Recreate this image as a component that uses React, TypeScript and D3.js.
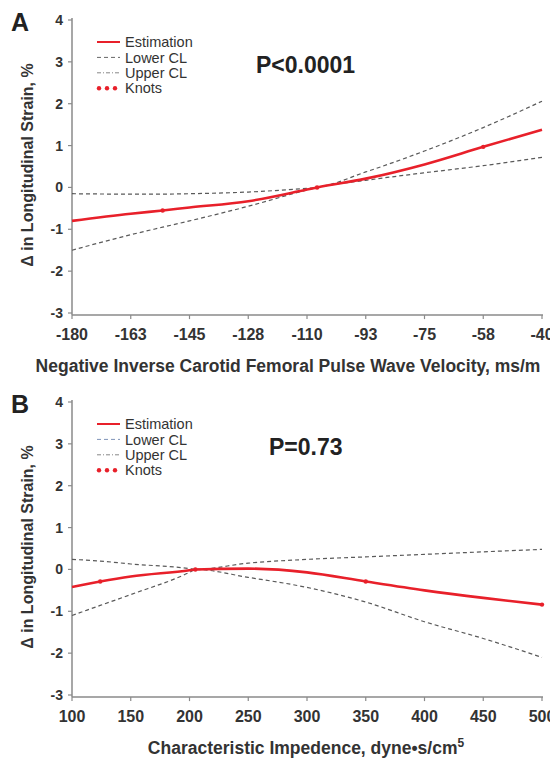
import React from "react";
import * as d3 from "d3";

// ---------- Panel A data ----------
const xA = [-180, -162.5, -153, -145, -127.5, -110, -107, -92.5, -75, -57.5, -40];
const estA = [-0.8, -0.63, -0.55, -0.48, -0.33, -0.05, 0, 0.21, 0.55, 0.97, 1.38];
const lowerA = [-1.5, -1.13, -0.95, -0.8, -0.45, -0.06, 0, 0.17, 0.35, 0.52, 0.72];
const upperA = [-0.15, -0.16, -0.16, -0.15, -0.11, -0.02, 0, 0.37, 0.87, 1.43, 2.06];
const knotsXA = [-153, -107, -57.5];
const knotsYA = [-0.55, 0, 0.97];
const xTicksA = [-180, -162.5, -145, -127.5, -110, -92.5, -75, -57.5, -40];
const xTickLabelsA = ["-180", "-163", "-145", "-128", "-110", "-93", "-75", "-58", "-40"];

// ---------- Panel B data ----------
const xB = [100, 124, 150, 200, 205, 250, 300, 350, 400, 450, 500];
const estB = [-0.42, -0.29, -0.17, -0.02, 0, 0.02, -0.07, -0.29, -0.5, -0.68, -0.84];
const lowerB = [-1.1, -0.86, -0.6, -0.07, 0, -0.19, -0.43, -0.78, -1.25, -1.65, -2.1];
const upperB = [0.24, 0.2, 0.13, 0.02, 0, 0.15, 0.24, 0.3, 0.36, 0.42, 0.48];
const knotsXB = [124, 205, 350, 500];
const knotsYB = [-0.29, 0, -0.29, -0.84];
const xTicksB = [100, 150, 200, 250, 300, 350, 400, 450, 500];
const xTickLabelsB = ["100", "150", "200", "250", "300", "350", "400", "450", "500"];

const yTicks = [-3, -2, -1, 0, 1, 2, 3, 4];
const legendLabels = ["Estimation", "Lower CL", "Upper CL", "Knots"];

const FONT = "'Liberation Sans', Arial, Helvetica, sans-serif";
const RED = "#e8202a";
const DASH = "#5a5a5a";
const AXIS = "#8a8a8a";

type PanelProps = {
  top: number;
  letter: string;
  pText: string;
  pX: number;
  xs: number[];
  est: number[];
  lower: number[];
  upper: number[];
  knotsX: number[];
  knotsY: number[];
  xTicks: number[];
  xTickLabels: string[];
  xDomain: [number, number];
  title: React.ReactNode;
  titleX: number;
  lowerLegendColor: string;
};

function Panel(p: PanelProps) {
  const left = 72;
  const right = 542;
  const x = d3.scaleLinear().domain(p.xDomain).range([left, right]);
  const y = d3
    .scaleLinear()
    .domain([-3, 4])
    .range([p.top + 293, p.top]);
  const yBottom = y(-3.05);
  const yTop = y(4.05);

  const mk = (vals: number[]) =>
    d3
      .line<number>()
      .x((_, i) => x(p.xs[i]))
      .y((v) => y(v))
      .curve(d3.curveMonotoneX)(vals) || "";

  const legTop = p.top + 22;
  const legStep = 15.4;

  return (
    <g fontFamily={FONT}>
      {/* axes */}
      <line x1={left} x2={left} y1={yTop} y2={yBottom} stroke={AXIS} strokeWidth={1.5} />
      <line x1={left} x2={right + 1} y1={yBottom} y2={yBottom} stroke={AXIS} strokeWidth={1.5} />
      {yTicks.map((t) => (
        <g key={"y" + t}>
          <line x1={left - 4} x2={left} y1={y(t)} y2={y(t)} stroke={AXIS} strokeWidth={1.2} />
          <text
            x={left - 9}
            y={y(t)}
            dy="0.36em"
            textAnchor="end"
            fontSize={14}
            fontWeight="bold"
            fill="#333"
          >
            {t}
          </text>
        </g>
      ))}
      {p.xTicks.map((t, i) => (
        <g key={"x" + t}>
          <line x1={x(t)} x2={x(t)} y1={yBottom} y2={yBottom + 4} stroke={AXIS} strokeWidth={1.2} />
          <text
            x={x(t)}
            y={yBottom + 25}
            textAnchor="middle"
            fontSize={16}
            fontWeight="bold"
            fill="#333"
          >
            {p.xTickLabels[i]}
          </text>
        </g>
      ))}

      {/* curves */}
      <path d={mk(p.upper)} fill="none" stroke={DASH} strokeWidth={1.2} strokeDasharray="4,3" />
      <path d={mk(p.lower)} fill="none" stroke={DASH} strokeWidth={1.2} strokeDasharray="4,3" />
      <path d={mk(p.est)} fill="none" stroke={RED} strokeWidth={2.6} />
      {p.knotsX.map((k, i) => (
        <circle key={"k" + i} cx={x(k)} cy={y(p.knotsY[i])} r={2.2} fill={RED} />
      ))}

      {/* legend */}
      {legendLabels.map((lab, i) => {
        const cy = legTop + i * legStep;
        let sample: React.ReactNode = null;
        if (i === 0)
          sample = <line x1={97} x2={120} y1={cy} y2={cy} stroke={RED} strokeWidth={2} />;
        else if (i === 1)
          sample = (
            <line x1={97} x2={120} y1={cy} y2={cy} stroke={p.lowerLegendColor} strokeWidth={1} strokeDasharray="4,3" />
          );
        else if (i === 2)
          sample = (
            <line x1={97} x2={120} y1={cy} y2={cy} stroke="#888" strokeWidth={1} strokeDasharray="4,2,1,2" />
          );
        else
          sample = (
            <g>
              {[99, 107, 115].map((cx) => (
                <circle key={cx} cx={cx} cy={cy} r={2.2} fill={RED} />
              ))}
            </g>
          );
        return (
          <g key={lab}>
            {sample}
            <text x={125} y={cy} dy="0.36em" fontSize={14.5} fill="#333">
              {lab}
            </text>
          </g>
        );
      })}

      {/* p-value */}
      <text x={p.pX} y={p.top + 53} fontSize={23} fontWeight="bold" fill="#222">
        {p.pText}
      </text>

      {/* panel letter */}
      <text x={11} y={p.top + 11} fontSize={25} fontWeight="bold" fill="#222">
        {p.letter}
      </text>

      {/* y title */}
      <text
        transform={`translate(33, ${p.top + 145}) rotate(-90)`}
        textAnchor="middle"
        fontSize={16}
        fontWeight="bold"
        fill="#333"
      >
        Δ in Longitudinal Strain, %
      </text>

      {/* x title */}
      <text x={p.titleX} y={yBottom + 57} textAnchor="middle" fontSize={17.5} fontWeight="bold" fill="#333">
        {p.title}
      </text>
    </g>
  );
}

export default function App() {
  return (
    <svg
      width={550}
      height={758}
      style={{ position: "absolute", left: 0, top: 0, background: "#fff" }}
    >
      <rect x={0} y={0} width={550} height={758} fill="#fff" />
      <Panel
        top={20}
        letter="A"
        pText="P<0.0001"
        pX={256}
        xs={xA}
        est={estA}
        lower={lowerA}
        upper={upperA}
        knotsX={knotsXA}
        knotsY={knotsYA}
        xTicks={xTicksA}
        xTickLabels={xTickLabelsA}
        xDomain={[-180, -40]}
        title="Negative Inverse Carotid Femoral Pulse Wave Velocity, ms/m"
        titleX={288}
        lowerLegendColor="#666"
      />
      <Panel
        top={402}
        letter="B"
        pText="P=0.73"
        pX={269}
        xs={xB}
        est={estB}
        lower={lowerB}
        upper={upperB}
        knotsX={knotsXB}
        knotsY={knotsYB}
        xTicks={xTicksB}
        xTickLabels={xTickLabelsB}
        xDomain={[100, 500]}
        title={
          <>
            Characteristic Impedence, dyne•s/cm
            <tspan dy={-7} fontSize={12}>
              5
            </tspan>
          </>
        }
        titleX={306}
        lowerLegendColor="#7f93b8"
      />
    </svg>
  );
}
